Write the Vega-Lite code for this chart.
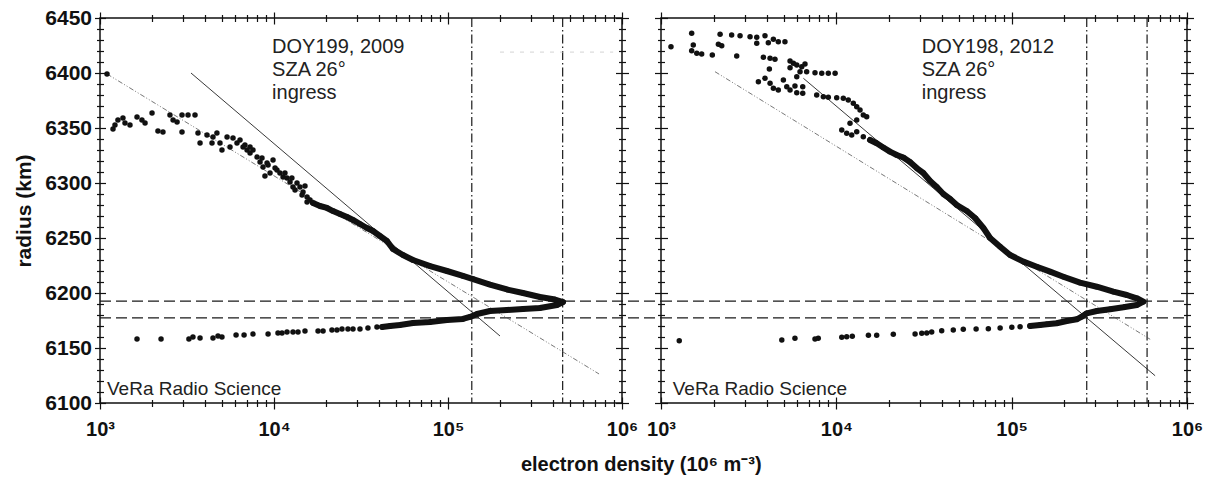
{
"$schema": "https://vega.github.io/schema/vega-lite/v6.json",
"background": "white",
"padding": {"left": 13, "top": 6, "right": 2, "bottom": 4},
"autosize": {"type": "pad"},
"spacing": 39,
"bounds": "flush",
"config": {
  "view": {"stroke": "#111", "strokeWidth": 1.5},
  "font": "Liberation Sans",
  "axis": {"domain": false, "grid": false, "ticks": true, "tickColor": "#111", "tickWidth": 1.2, "labelColor": "#111", "titleColor": "#111", "labelFont": "Liberation Sans", "titleFont": "Liberation Sans"}
},
"title": {"text": "electron density (10⁶ m⁻³)", "orient": "bottom", "anchor": "middle", "frame": "bounds", "fontSize": 20, "fontWeight": "bold", "font": "Liberation Sans", "color": "#111", "offset": 15, "dx": 33},
"datasets": {
  "vr": [{"p":"a","n":137000},{"p":"a","n":456000},{"p":"b","n":268000},{"p":"b","n":592000}],
  "hr": [{"p":"a","r":6192.7,"n":1000,"n2":1675000},{"p":"a","r":6177.3,"n":1000,"n2":1675000},{"p":"b","r":6192.7,"n":1000,"n2":1000000},{"p":"b","r":6177.3,"n":1000,"n2":1000000}],
  "fit": [
    {"p":"a","k":"s","n":3334,"r":6400},{"p":"a","k":"s","n":199000,"r":6160.9},
    {"p":"a","k":"d","n":1097,"r":6399.1},{"p":"a","k":"d","n":738000,"r":6126.4},
    {"p":"a","k":"f","n":199000,"r":6419},{"p":"a","k":"f","n":890000,"r":6419},
    {"p":"b","k":"s","n":6486,"r":6395.2},{"p":"b","k":"s","n":657900,"r":6124.8},
    {"p":"b","k":"d","n":2032,"r":6401.2},{"p":"b","k":"d","n":616600,"r":6157.9}
  ],
  "txt": [
    {"p":"a","k":"h","t":"DOY199, 2009\nSZA 26°\ningress","n":9750,"r":6432.5},
    {"p":"b","k":"h","t":"DOY198, 2012\nSZA 26°\ningress","n":30700,"r":6432.5},
    {"p":"a","k":"v","t":"VeRa Radio Science","n":1097,"r":6107.3},
    {"p":"b","k":"v","t":"VeRa Radio Science","n":1166,"r":6107.3}
  ],
  "pts": [
    {"p":"a","n":1097,"r":6399.1,"d":0,"i":0},{"p":"a","n":1188,"r":6349.1,"d":0,"i":1},{"p":"a","n":1219,"r":6352.7,"d":0,"i":2},{"p":"a","n":1268,"r":6357.3,"d":0,"i":3},{"p":"a","n":1355,"r":6359.1,"d":0,"i":4},{"p":"a","n":1392,"r":6354.5,"d":0,"i":5},{"p":"a","n":1487,"r":6352.7,"d":0,"i":6},{"p":"a","n":1632,"r":6360,"d":0,"i":7},{"p":"a","n":1742,"r":6357.3,"d":0,"i":8},{"p":"a","n":1815,"r":6354.5,"d":0,"i":9},
    {"p":"a","n":1991,"r":6363.6,"d":0,"i":10},{"p":"a","n":2153,"r":6347.3,"d":0,"i":11},{"p":"a","n":2301,"r":6346.4,"d":0,"i":12},{"p":"a","n":2524,"r":6361.8,"d":0,"i":13},{"p":"a","n":2630,"r":6357.3,"d":0,"i":14},{"p":"a","n":2773,"r":6355.5,"d":0,"i":15},{"p":"a","n":2960,"r":6346.4,"d":0,"i":16},{"p":"a","n":2960,"r":6361.8,"d":0,"i":17},{"p":"a","n":3206,"r":6361.8,"d":0,"i":18},{"p":"a","n":3516,"r":6361.8,"d":0,"i":19},
    {"p":"a","n":3657,"r":6345.5,"d":0,"i":20},{"p":"a","n":3758,"r":6336.4,"d":0,"i":21},{"p":"a","n":4121,"r":6343.6,"d":0,"i":22},{"p":"a","n":4403,"r":6336.4,"d":0,"i":23},{"p":"a","n":4460,"r":6341.8,"d":0,"i":24},{"p":"a","n":4699,"r":6345.5,"d":0,"i":25},{"p":"a","n":4893,"r":6336.4,"d":0,"i":26},{"p":"a","n":5023,"r":6330,"d":0,"i":27},{"p":"a","n":5372,"r":6341.8,"d":0,"i":28},{"p":"a","n":5589,"r":6332.7,"d":0,"i":29},
    {"p":"a","n":5813,"r":6340.9,"d":0,"i":30},{"p":"a","n":6127,"r":6336.4,"d":0,"i":31},{"p":"a","n":6378,"r":6339.1,"d":0,"i":32},{"p":"a","n":6640,"r":6332.7,"d":0,"i":33},{"p":"a","n":7000,"r":6330,"d":0,"i":34},{"p":"a","n":7284,"r":6327.3,"d":0,"i":35},{"p":"a","n":7576,"r":6330,"d":0,"i":36},{"p":"a","n":7985,"r":6323.6,"d":0,"i":37},{"p":"a","n":8314,"r":6319.1,"d":0,"i":38},{"p":"a","n":8650,"r":6314.5,"d":0,"i":39},
    {"p":"a","n":9120,"r":6318.2,"d":0,"i":40},{"p":"a","n":9489,"r":6309.1,"d":0,"i":41},{"p":"a","n":9873,"r":6320.9,"d":0,"i":42},{"p":"a","n":10400,"r":6311.8,"d":0,"i":43},{"p":"a","n":8872,"r":6306.4,"d":0,"i":44},{"p":"a","n":10820,"r":6309.1,"d":0,"i":45},{"p":"a","n":11270,"r":6305.5,"d":0,"i":46},{"p":"a","n":11880,"r":6304.5,"d":0,"i":47},{"p":"a","n":12360,"r":6300.9,"d":0,"i":48},{"p":"a","n":12860,"r":6296.4,"d":0,"i":49},
    {"p":"a","n":13560,"r":6300,"d":0,"i":50},{"p":"a","n":14100,"r":6296.4,"d":0,"i":51},{"p":"a","n":14680,"r":6291.8,"d":0,"i":52},{"p":"a","n":15490,"r":6287.3,"d":0,"i":53},{"p":"a","n":15490,"r":6282.7,"d":0,"i":54},{"p":"a","n":16110,"r":6284.5,"d":0,"i":55},{"p":"a","n":6808,"r":6334.5,"d":0,"i":56},{"p":"a","n":7284,"r":6332.7,"d":0,"i":57},{"p":"a","n":8531,"r":6322.7,"d":0,"i":58},{"p":"a","n":9247,"r":6316.4,"d":0,"i":59},
    {"p":"a","n":10140,"r":6313.6,"d":0,"i":60},{"p":"a","n":11560,"r":6309.1,"d":0,"i":61},{"p":"a","n":12670,"r":6304.5,"d":0,"i":62},{"p":"a","n":13210,"r":6293.6,"d":0,"i":63},{"p":"a","n":14490,"r":6289.1,"d":0,"i":64},{"p":"a","n":15070,"r":6297.3,"d":0,"i":65},
    {"p":"a","n":16760,"r":6281.8,"d":1,"i":100},{"p":"a","n":18370,"r":6279.1,"d":1,"i":101},{"p":"a","n":20160,"r":6277.3,"d":1,"i":102},{"p":"a","n":21830,"r":6274.5,"d":1,"i":103},{"p":"a","n":23940,"r":6271.8,"d":1,"i":104},{"p":"a","n":26290,"r":6269.1,"d":1,"i":105},{"p":"a","n":28450,"r":6266.4,"d":1,"i":106},{"p":"a","n":31200,"r":6262.7,"d":1,"i":107},{"p":"a","n":34220,"r":6259.1,"d":1,"i":108},{"p":"a","n":37070,"r":6256.4,"d":1,"i":109},
    {"p":"a","n":40640,"r":6251.8,"d":1,"i":110},{"p":"a","n":44580,"r":6247.3,"d":1,"i":111},{"p":"a","n":48270,"r":6240,"d":1,"i":112},{"p":"a","n":55080,"r":6234.5,"d":1,"i":113},{"p":"a","n":62920,"r":6230,"d":1,"i":114},{"p":"a","n":78850,"r":6224.5,"d":1,"i":115},{"p":"a","n":98620,"r":6220,"d":1,"i":116},{"p":"a","n":121900,"r":6215.5,"d":1,"i":117},{"p":"a","n":139300,"r":6212.7,"d":1,"i":118},{"p":"a","n":174200,"r":6207.7,"d":1,"i":119},
    {"p":"a","n":218300,"r":6203.2,"d":1,"i":120},{"p":"a","n":269800,"r":6200,"d":1,"i":121},{"p":"a","n":337800,"r":6196.4,"d":1,"i":122},{"p":"a","n":411800,"r":6194.1,"d":1,"i":123},{"p":"a","n":458300,"r":6191.8,"d":1,"i":124},{"p":"a","n":423100,"r":6189.1,"d":1,"i":125},{"p":"a","n":337800,"r":6186.4,"d":1,"i":126},{"p":"a","n":269800,"r":6185.5,"d":1,"i":127},{"p":"a","n":218300,"r":6184.5,"d":1,"i":128},{"p":"a","n":174200,"r":6183.6,"d":1,"i":129},
    {"p":"a","n":146800,"r":6180.9,"d":1,"i":130},{"p":"a","n":133700,"r":6178.2,"d":1,"i":131},{"p":"a","n":121900,"r":6176.4,"d":1,"i":132},{"p":"a","n":98620,"r":6175.5,"d":1,"i":133},{"p":"a","n":78850,"r":6173.6,"d":1,"i":134},{"p":"a","n":62920,"r":6172.7,"d":1,"i":135},{"p":"a","n":52940,"r":6170.9,"d":1,"i":136},{"p":"a","n":46450,"r":6170,"d":1,"i":137},{"p":"a","n":41790,"r":6169.1,"d":1,"i":138},
    {"p":"a","n":39060,"r":6169.1,"d":0,"i":200},{"p":"a","n":34670,"r":6168.2,"d":0,"i":201},{"p":"a","n":31200,"r":6167.3,"d":0,"i":202},{"p":"a","n":28450,"r":6167.3,"d":0,"i":203},{"p":"a","n":26610,"r":6167.3,"d":0,"i":204},{"p":"a","n":24590,"r":6167.3,"d":0,"i":205},{"p":"a","n":23010,"r":6166.4,"d":0,"i":206},{"p":"a","n":21530,"r":6166.4,"d":0,"i":207},{"p":"a","n":19140,"r":6165.5,"d":0,"i":208},{"p":"a","n":17910,"r":6165.5,"d":0,"i":209},
    {"p":"a","n":15070,"r":6165.5,"d":0,"i":210},{"p":"a","n":13740,"r":6164.5,"d":0,"i":211},{"p":"a","n":12860,"r":6164.5,"d":0,"i":212},{"p":"a","n":11880,"r":6164.5,"d":0,"i":213},{"p":"a","n":11120,"r":6163.6,"d":0,"i":214},{"p":"a","n":10540,"r":6163.6,"d":0,"i":215},{"p":"a","n":9247,"r":6162.7,"d":0,"i":216},{"p":"a","n":7576,"r":6162.7,"d":0,"i":217},{"p":"a","n":6730,"r":6161.8,"d":0,"i":218},{"p":"a","n":6053,"r":6161.8,"d":0,"i":219},
    {"p":"a","n":5023,"r":6160,"d":0,"i":220},{"p":"a","n":4766,"r":6160.9,"d":0,"i":221},{"p":"a","n":4460,"r":6159.1,"d":0,"i":222},{"p":"a","n":3758,"r":6159.1,"d":0,"i":223},{"p":"a","n":3421,"r":6160,"d":0,"i":224},{"p":"a","n":3243,"r":6158.2,"d":0,"i":225},{"p":"a","n":2243,"r":6158.2,"d":0,"i":226},{"p":"a","n":1632,"r":6158.2,"d":0,"i":227},

    {"p":"b","n":1140,"r":6423.9,"d":0,"i":0},{"p":"b","n":1496,"r":6436.1,"d":0,"i":1},{"p":"b","n":1528,"r":6425.5,"d":0,"i":2},{"p":"b","n":1496,"r":6420.3,"d":0,"i":3},{"p":"b","n":1600,"r":6417.9,"d":0,"i":4},{"p":"b","n":1706,"r":6417.3,"d":0,"i":5},{"p":"b","n":1962,"r":6416.4,"d":0,"i":6},{"p":"b","n":2173,"r":6435.2,"d":0,"i":7},{"p":"b","n":2125,"r":6426.1,"d":0,"i":8},{"p":"b","n":2220,"r":6424.8,"d":0,"i":9},
    {"p":"b","n":2529,"r":6434.5,"d":0,"i":10},{"p":"b","n":2703,"r":6415.5,"d":0,"i":11},{"p":"b","n":2824,"r":6433.9,"d":0,"i":12},{"p":"b","n":3220,"r":6433,"d":0,"i":13},{"p":"b","n":3516,"r":6432.5,"d":0,"i":14},{"p":"b","n":3516,"r":6427,"d":0,"i":15},{"p":"b","n":3917,"r":6433.9,"d":0,"i":16},{"p":"b","n":4093,"r":6427.5,"d":0,"i":17},{"p":"b","n":4375,"r":6430.6,"d":0,"i":18},{"p":"b","n":4667,"r":6428.5,"d":0,"i":19},
    {"p":"b","n":5093,"r":6428.5,"d":0,"i":20},{"p":"b","n":3837,"r":6414.3,"d":0,"i":21},{"p":"b","n":4188,"r":6413.4,"d":0,"i":22},{"p":"b","n":4467,"r":6412.5,"d":0,"i":23},{"p":"b","n":4150,"r":6403.6,"d":0,"i":24},{"p":"b","n":5445,"r":6410.9,"d":0,"i":25},{"p":"b","n":5689,"r":6408.8,"d":0,"i":26},{"p":"b","n":5445,"r":6404.8,"d":0,"i":27},{"p":"b","n":5946,"r":6407.3,"d":0,"i":28},{"p":"b","n":6350,"r":6405.7,"d":0,"i":29},
    {"p":"b","n":6626,"r":6408.2,"d":0,"i":30},{"p":"b","n":6208,"r":6401.2,"d":0,"i":31},{"p":"b","n":5946,"r":6396.6,"d":0,"i":32},{"p":"b","n":6772,"r":6401.2,"d":0,"i":33},{"p":"b","n":7556,"r":6400.3,"d":0,"i":34},{"p":"b","n":8256,"r":6399.7,"d":0,"i":35},{"p":"b","n":9003,"r":6399.7,"d":0,"i":36},{"p":"b","n":9840,"r":6399.7,"d":0,"i":37},{"p":"b","n":3592,"r":6392.1,"d":0,"i":38},{"p":"b","n":3917,"r":6395.2,"d":0,"i":39},
    {"p":"b","n":4188,"r":6390.6,"d":0,"i":40},{"p":"b","n":4375,"r":6386.1,"d":0,"i":41},{"p":"b","n":4667,"r":6384.5,"d":0,"i":42},{"p":"b","n":4989,"r":6393.6,"d":0,"i":43},{"p":"b","n":5215,"r":6387.5,"d":0,"i":44},{"p":"b","n":5445,"r":6384.5,"d":0,"i":45},{"p":"b","n":5808,"r":6388.2,"d":0,"i":46},{"p":"b","n":5946,"r":6382.1,"d":0,"i":47},{"p":"b","n":6432,"r":6387.5,"d":0,"i":48},{"p":"b","n":6432,"r":6381.5,"d":0,"i":49},
    {"p":"b","n":7727,"r":6380,"d":0,"i":50},{"p":"b","n":8433,"r":6378.5,"d":0,"i":51},{"p":"b","n":9003,"r":6377.9,"d":0,"i":52},{"p":"b","n":10050,"r":6377.5,"d":0,"i":53},{"p":"b","n":10960,"r":6377,"d":0,"i":54},{"p":"b","n":11700,"r":6375.5,"d":0,"i":55},{"p":"b","n":12500,"r":6372.5,"d":0,"i":56},{"p":"b","n":13070,"r":6369.4,"d":0,"i":57},{"p":"b","n":13650,"r":6366.4,"d":0,"i":58},{"p":"b","n":14250,"r":6361.8,"d":0,"i":59},
    {"p":"b","n":14900,"r":6360.3,"d":0,"i":60},{"p":"b","n":13070,"r":6357.3,"d":0,"i":61},{"p":"b","n":11970,"r":6354.3,"d":0,"i":62},{"p":"b","n":10740,"r":6348.2,"d":0,"i":63},{"p":"b","n":11460,"r":6345.2,"d":0,"i":64},{"p":"b","n":12240,"r":6343.6,"d":0,"i":65},{"p":"b","n":13070,"r":6346.6,"d":0,"i":66},{"p":"b","n":14250,"r":6342.1,"d":0,"i":67},
    {"p":"b","n":15560,"r":6339.1,"d":1,"i":100},{"p":"b","n":16990,"r":6336.1,"d":1,"i":101},{"p":"b","n":18530,"r":6332.3,"d":1,"i":102},{"p":"b","n":20230,"r":6328.5,"d":1,"i":103},{"p":"b","n":22110,"r":6325.5,"d":1,"i":104},{"p":"b","n":24110,"r":6323.2,"d":1,"i":105},{"p":"b","n":26310,"r":6319.1,"d":1,"i":106},{"p":"b","n":28740,"r":6313.6,"d":1,"i":107},{"p":"b","n":31340,"r":6309.1,"d":1,"i":108},{"p":"b","n":34270,"r":6301.8,"d":1,"i":109},
    {"p":"b","n":37410,"r":6296.4,"d":1,"i":110},{"p":"b","n":40780,"r":6290,"d":1,"i":111},{"p":"b","n":44560,"r":6285.5,"d":1,"i":112},{"p":"b","n":48640,"r":6280,"d":1,"i":113},{"p":"b","n":55480,"r":6274.5,"d":1,"i":114},{"p":"b","n":61850,"r":6268.2,"d":1,"i":115},{"p":"b","n":69000,"r":6259.1,"d":1,"i":116},{"p":"b","n":75330,"r":6250,"d":1,"i":117},{"p":"b","n":85940,"r":6242.1,"d":1,"i":118},{"p":"b","n":97930,"r":6234.5,"d":1,"i":119},
    {"p":"b","n":116700,"r":6228.5,"d":1,"i":120},{"p":"b","n":139100,"r":6223.9,"d":1,"i":121},{"p":"b","n":165600,"r":6219.4,"d":1,"i":122},{"p":"b","n":197200,"r":6214.8,"d":1,"i":123},{"p":"b","n":245500,"r":6209.4,"d":1,"i":124},{"p":"b","n":305900,"r":6205.7,"d":1,"i":125},{"p":"b","n":380300,"r":6201.2,"d":1,"i":126},{"p":"b","n":453600,"r":6198.2,"d":1,"i":127},{"p":"b","n":517400,"r":6195.2,"d":1,"i":128},{"p":"b","n":564100,"r":6192.1,"d":1,"i":129},
    {"p":"b","n":517400,"r":6189.1,"d":1,"i":130},{"p":"b","n":433800,"r":6187,"d":1,"i":131},{"p":"b","n":364000,"r":6185.2,"d":1,"i":132},{"p":"b","n":305900,"r":6183.6,"d":1,"i":133},{"p":"b","n":268000,"r":6181.5,"d":1,"i":134},{"p":"b","n":251100,"r":6178.5,"d":1,"i":135},{"p":"b","n":235000,"r":6176.1,"d":1,"i":136},{"p":"b","n":206200,"r":6174.5,"d":1,"i":137},{"p":"b","n":180700,"r":6172.5,"d":1,"i":138},{"p":"b","n":158500,"r":6171.5,"d":1,"i":139},
    {"p":"b","n":145200,"r":6170.9,"d":1,"i":140},{"p":"b","n":127400,"r":6170,"d":1,"i":141},
    {"p":"b","n":111700,"r":6169.4,"d":0,"i":200},{"p":"b","n":100200,"r":6168.8,"d":0,"i":201},{"p":"b","n":85940,"r":6168.2,"d":0,"i":202},{"p":"b","n":73620,"r":6167.5,"d":0,"i":203},{"p":"b","n":62690,"r":6167.3,"d":0,"i":204},{"p":"b","n":52970,"r":6167,"d":0,"i":205},{"p":"b","n":46450,"r":6166.4,"d":0,"i":206},{"p":"b","n":39900,"r":6165.7,"d":0,"i":207},{"p":"b","n":34980,"r":6164.5,"d":0,"i":208},{"p":"b","n":32780,"r":6163.6,"d":0,"i":209},
    {"p":"b","n":30710,"r":6163.4,"d":0,"i":210},{"p":"b","n":28130,"r":6162.7,"d":0,"i":211},{"p":"b","n":21130,"r":6162.5,"d":0,"i":212},{"p":"b","n":16990,"r":6161.5,"d":0,"i":213},{"p":"b","n":15240,"r":6161.5,"d":0,"i":214},{"p":"b","n":12330,"r":6160.6,"d":0,"i":215},{"p":"b","n":11460,"r":6160.3,"d":0,"i":216},{"p":"b","n":10740,"r":6159.7,"d":0,"i":217},{"p":"b","n":7888,"r":6158.8,"d":0,"i":218},{"p":"b","n":7556,"r":6158.2,"d":0,"i":219},
    {"p":"b","n":5808,"r":6158.8,"d":0,"i":220},{"p":"b","n":4886,"r":6157.3,"d":0,"i":221},{"p":"b","n":1271,"r":6156.6,"d":0,"i":222}
  ]
},
"hconcat": [
  {
    "width": 522, "height": 385,
    "resolve": {"axis": {"x": "independent", "y": "independent"}},
    "layer": [
      {"data": {"name": "vr"}, "transform": [{"filter": "datum.p=='a'"}],
       "mark": {"type": "rule", "color": "#1a1a1a", "strokeWidth": 1.2, "strokeDash": [9,3,1.5,3]},
       "encoding": {"x": {"field": "n", "type": "quantitative", "scale": {"type": "log", "domain": [1000,1000000], "nice": false}, "axis": null}}},
      {"data": {"name": "hr"}, "transform": [{"filter": "datum.p=='a'"}],
       "mark": {"type": "rule", "color": "#1a1a1a", "strokeWidth": 1.3, "strokeDash": [11,5], "clip": false},
       "encoding": {
         "x": {"field": "n", "type": "quantitative", "scale": {"type": "log", "domain": [1000,1000000], "nice": false},
               "axis": {"orient": "bottom", "values": [1000,10000,100000,1000000], "offset": -6, "tickSize": 12,
                        "labelExpr": "datum.value==1000?'10³':datum.value==10000?'10⁴':datum.value==100000?'10⁵':'10⁶'",
                        "labelFontSize": 20, "labelFontWeight": "bold", "labelPadding": 10, "labelOverlap": false, "labelFlush": false, "labelBound": false, "title": null}},
         "x2": {"field": "n2"},
         "y": {"field": "r", "type": "quantitative", "scale": {"domain": [6100,6450], "nice": false, "zero": false},
               "axis": {"orient": "left", "values": [6100,6150,6200,6250,6300,6350,6400,6450], "offset": -5.5, "tickSize": 11, "format": "d",
                        "labelFontSize": 21, "labelFontWeight": "bold", "labelPadding": 3, "labelOverlap": false, "labelFlush": false, "labelBound": false,
                        "title": "radius (km)", "titleFontSize": 21, "titleFontWeight": "bold", "titlePadding": 10}}}},
      {"data": {"name": "fit"}, "transform": [{"filter": "datum.p=='a' && datum.k=='s'"}],
       "mark": {"type": "line", "color": "#222", "strokeWidth": 0.9},
       "encoding": {
         "x": {"field": "n", "type": "quantitative", "scale": {"type": "log", "domain": [1000,1000000], "nice": false},
               "axis": {"orient": "bottom", "values": [2000,3000,4000,5000,6000,7000,8000,9000,20000,30000,40000,50000,60000,70000,80000,90000,200000,300000,400000,500000,600000,700000,800000,900000], "offset": -3.5, "tickSize": 7, "labels": false, "title": null}},
         "y": {"field": "r", "type": "quantitative", "scale": {"domain": [6100,6450], "nice": false, "zero": false},
               "axis": {"orient": "left", "values": [6110,6120,6130,6140,6160,6170,6180,6190,6210,6220,6230,6240,6260,6270,6280,6290,6310,6320,6330,6340,6360,6370,6380,6390,6410,6420,6430,6440], "offset": -3.5, "tickSize": 7, "labels": false, "title": null}}}},
      {"data": {"name": "fit"}, "transform": [{"filter": "datum.p=='a' && datum.k=='d'"}],
       "mark": {"type": "line", "color": "#555", "strokeWidth": 0.8, "strokeDash": [5,2,1,2,1,2]},
       "encoding": {
         "x": {"field": "n", "type": "quantitative", "scale": {"type": "log", "domain": [1000,1000000], "nice": false},
               "axis": {"orient": "top", "values": [1000,10000,100000,1000000], "offset": -6, "tickSize": 12, "labels": false, "title": null}},
         "y": {"field": "r", "type": "quantitative", "scale": {"domain": [6100,6450], "nice": false, "zero": false},
               "axis": {"orient": "right", "values": [6100,6150,6200,6250,6300,6350,6400,6450], "offset": -6.5, "tickSize": 13, "labels": false, "title": null}}}},
      {"data": {"name": "fit"}, "transform": [{"filter": "datum.p=='a' && datum.k=='f'"}],
       "mark": {"type": "line", "color": "#c8c8c8", "strokeWidth": 0.8, "strokeDash": [4,6]},
       "encoding": {
         "x": {"field": "n", "type": "quantitative", "scale": {"type": "log", "domain": [1000,1000000], "nice": false}, "axis": null},
         "y": {"field": "r", "type": "quantitative", "scale": {"domain": [6100,6450], "nice": false, "zero": false}, "axis": null}}},
      {"data": {"name": "pts"}, "transform": [{"filter": "datum.p=='a' && datum.d==1"}],
       "mark": {"type": "line", "color": "#111", "strokeWidth": 6, "strokeJoin": "round", "strokeCap": "round"},
       "encoding": {
         "x": {"field": "n", "type": "quantitative", "scale": {"type": "log", "domain": [1000,1000000], "nice": false},
               "axis": {"orient": "top", "values": [2000,3000,4000,5000,6000,7000,8000,9000,20000,30000,40000,50000,60000,70000,80000,90000,200000,300000,400000,500000,600000,700000,800000,900000], "offset": -3.5, "tickSize": 7, "labels": false, "title": null}},
         "y": {"field": "r", "type": "quantitative", "scale": {"domain": [6100,6450], "nice": false, "zero": false},
               "axis": {"orient": "right", "values": [6110,6120,6130,6140,6160,6170,6180,6190,6210,6220,6230,6240,6260,6270,6280,6290,6310,6320,6330,6340,6360,6370,6380,6390,6410,6420,6430,6440], "offset": -3.5, "tickSize": 7, "labels": false, "title": null}},
         "order": {"field": "i", "type": "quantitative"}}},
      {"data": {"name": "pts"}, "transform": [{"filter": "datum.p=='a'"}],
       "mark": {"type": "circle", "color": "#111", "size": 30, "opacity": 1},
       "encoding": {
         "x": {"field": "n", "type": "quantitative", "scale": {"type": "log", "domain": [1000,1000000], "nice": false}, "axis": null},
         "y": {"field": "r", "type": "quantitative", "scale": {"domain": [6100,6450], "nice": false, "zero": false}, "axis": null}}},
      {"data": {"name": "txt"}, "transform": [{"filter": "datum.p=='a' && datum.k=='h'"}],
       "mark": {"type": "text", "align": "left", "baseline": "top", "fontSize": 20, "lineHeight": 23, "lineBreak": "\n", "color": "#222", "font": "Liberation Sans"},
       "encoding": {
         "x": {"field": "n", "type": "quantitative", "scale": {"type": "log", "domain": [1000,1000000], "nice": false}, "axis": null},
         "y": {"field": "r", "type": "quantitative", "scale": {"domain": [6100,6450], "nice": false, "zero": false}, "axis": null},
         "text": {"field": "t"}}},
      {"data": {"name": "txt"}, "transform": [{"filter": "datum.p=='a' && datum.k=='v'"}],
       "mark": {"type": "text", "align": "left", "baseline": "alphabetic", "fontSize": 19, "color": "#222", "font": "Liberation Sans"},
       "encoding": {
         "x": {"field": "n", "type": "quantitative", "scale": {"type": "log", "domain": [1000,1000000], "nice": false}, "axis": null},
         "y": {"field": "r", "type": "quantitative", "scale": {"domain": [6100,6450], "nice": false, "zero": false}, "axis": null},
         "text": {"field": "t"}}}
    ]
  },
  {
    "width": 526, "height": 385,
    "resolve": {"axis": {"x": "independent", "y": "independent"}},
    "layer": [
      {"data": {"name": "vr"}, "transform": [{"filter": "datum.p=='b'"}],
       "mark": {"type": "rule", "color": "#1a1a1a", "strokeWidth": 1.2, "strokeDash": [9,3,1.5,3]},
       "encoding": {"x": {"field": "n", "type": "quantitative", "scale": {"type": "log", "domain": [1000,1000000], "nice": false}, "axis": null}}},
      {"data": {"name": "hr"}, "transform": [{"filter": "datum.p=='b'"}],
       "mark": {"type": "rule", "color": "#1a1a1a", "strokeWidth": 1.3, "strokeDash": [11,5], "clip": false},
       "encoding": {
         "x": {"field": "n", "type": "quantitative", "scale": {"type": "log", "domain": [1000,1000000], "nice": false},
               "axis": {"orient": "bottom", "values": [1000,10000,100000,1000000], "offset": -6, "tickSize": 12,
                        "labelExpr": "datum.value==1000?'10³':datum.value==10000?'10⁴':datum.value==100000?'10⁵':'10⁶'",
                        "labelFontSize": 20, "labelFontWeight": "bold", "labelPadding": 10, "labelOverlap": false, "labelFlush": false, "labelBound": false, "title": null}},
         "x2": {"field": "n2"},
         "y": {"field": "r", "type": "quantitative", "scale": {"domain": [6100,6450], "nice": false, "zero": false},
               "axis": {"orient": "left", "values": [6100,6150,6200,6250,6300,6350,6400,6450], "offset": -6.5, "tickSize": 13, "labels": false, "title": null}}}},
      {"data": {"name": "fit"}, "transform": [{"filter": "datum.p=='b' && datum.k=='s'"}],
       "mark": {"type": "line", "color": "#222", "strokeWidth": 0.9},
       "encoding": {
         "x": {"field": "n", "type": "quantitative", "scale": {"type": "log", "domain": [1000,1000000], "nice": false},
               "axis": {"orient": "bottom", "values": [2000,3000,4000,5000,6000,7000,8000,9000,20000,30000,40000,50000,60000,70000,80000,90000,200000,300000,400000,500000,600000,700000,800000,900000], "offset": -3.5, "tickSize": 7, "labels": false, "title": null}},
         "y": {"field": "r", "type": "quantitative", "scale": {"domain": [6100,6450], "nice": false, "zero": false},
               "axis": {"orient": "left", "values": [6110,6120,6130,6140,6160,6170,6180,6190,6210,6220,6230,6240,6260,6270,6280,6290,6310,6320,6330,6340,6360,6370,6380,6390,6410,6420,6430,6440], "offset": -3.5, "tickSize": 7, "labels": false, "title": null}}}},
      {"data": {"name": "fit"}, "transform": [{"filter": "datum.p=='b' && datum.k=='d'"}],
       "mark": {"type": "line", "color": "#555", "strokeWidth": 0.8, "strokeDash": [5,2,1,2,1,2]},
       "encoding": {
         "x": {"field": "n", "type": "quantitative", "scale": {"type": "log", "domain": [1000,1000000], "nice": false},
               "axis": {"orient": "top", "values": [1000,10000,100000,1000000], "offset": -6, "tickSize": 12, "labels": false, "title": null}},
         "y": {"field": "r", "type": "quantitative", "scale": {"domain": [6100,6450], "nice": false, "zero": false},
               "axis": {"orient": "right", "values": [6100,6150,6200,6250,6300,6350,6400,6450], "offset": -6.5, "tickSize": 13, "labels": false, "title": null}}}},
      {"data": {"name": "pts"}, "transform": [{"filter": "datum.p=='b' && datum.d==1"}],
       "mark": {"type": "line", "color": "#111", "strokeWidth": 6, "strokeJoin": "round", "strokeCap": "round"},
       "encoding": {
         "x": {"field": "n", "type": "quantitative", "scale": {"type": "log", "domain": [1000,1000000], "nice": false},
               "axis": {"orient": "top", "values": [2000,3000,4000,5000,6000,7000,8000,9000,20000,30000,40000,50000,60000,70000,80000,90000,200000,300000,400000,500000,600000,700000,800000,900000], "offset": -3.5, "tickSize": 7, "labels": false, "title": null}},
         "y": {"field": "r", "type": "quantitative", "scale": {"domain": [6100,6450], "nice": false, "zero": false},
               "axis": {"orient": "right", "values": [6110,6120,6130,6140,6160,6170,6180,6190,6210,6220,6230,6240,6260,6270,6280,6290,6310,6320,6330,6340,6360,6370,6380,6390,6410,6420,6430,6440], "offset": -3.5, "tickSize": 7, "labels": false, "title": null}},
         "order": {"field": "i", "type": "quantitative"}}},
      {"data": {"name": "pts"}, "transform": [{"filter": "datum.p=='b'"}],
       "mark": {"type": "circle", "color": "#111", "size": 30, "opacity": 1},
       "encoding": {
         "x": {"field": "n", "type": "quantitative", "scale": {"type": "log", "domain": [1000,1000000], "nice": false}, "axis": null},
         "y": {"field": "r", "type": "quantitative", "scale": {"domain": [6100,6450], "nice": false, "zero": false}, "axis": null}}},
      {"data": {"name": "txt"}, "transform": [{"filter": "datum.p=='b' && datum.k=='h'"}],
       "mark": {"type": "text", "align": "left", "baseline": "top", "fontSize": 20, "lineHeight": 23, "lineBreak": "\n", "color": "#222", "font": "Liberation Sans"},
       "encoding": {
         "x": {"field": "n", "type": "quantitative", "scale": {"type": "log", "domain": [1000,1000000], "nice": false}, "axis": null},
         "y": {"field": "r", "type": "quantitative", "scale": {"domain": [6100,6450], "nice": false, "zero": false}, "axis": null},
         "text": {"field": "t"}}},
      {"data": {"name": "txt"}, "transform": [{"filter": "datum.p=='b' && datum.k=='v'"}],
       "mark": {"type": "text", "align": "left", "baseline": "alphabetic", "fontSize": 19, "color": "#222", "font": "Liberation Sans"},
       "encoding": {
         "x": {"field": "n", "type": "quantitative", "scale": {"type": "log", "domain": [1000,1000000], "nice": false}, "axis": null},
         "y": {"field": "r", "type": "quantitative", "scale": {"domain": [6100,6450], "nice": false, "zero": false}, "axis": null},
         "text": {"field": "t"}}}
    ]
  }
]
}
